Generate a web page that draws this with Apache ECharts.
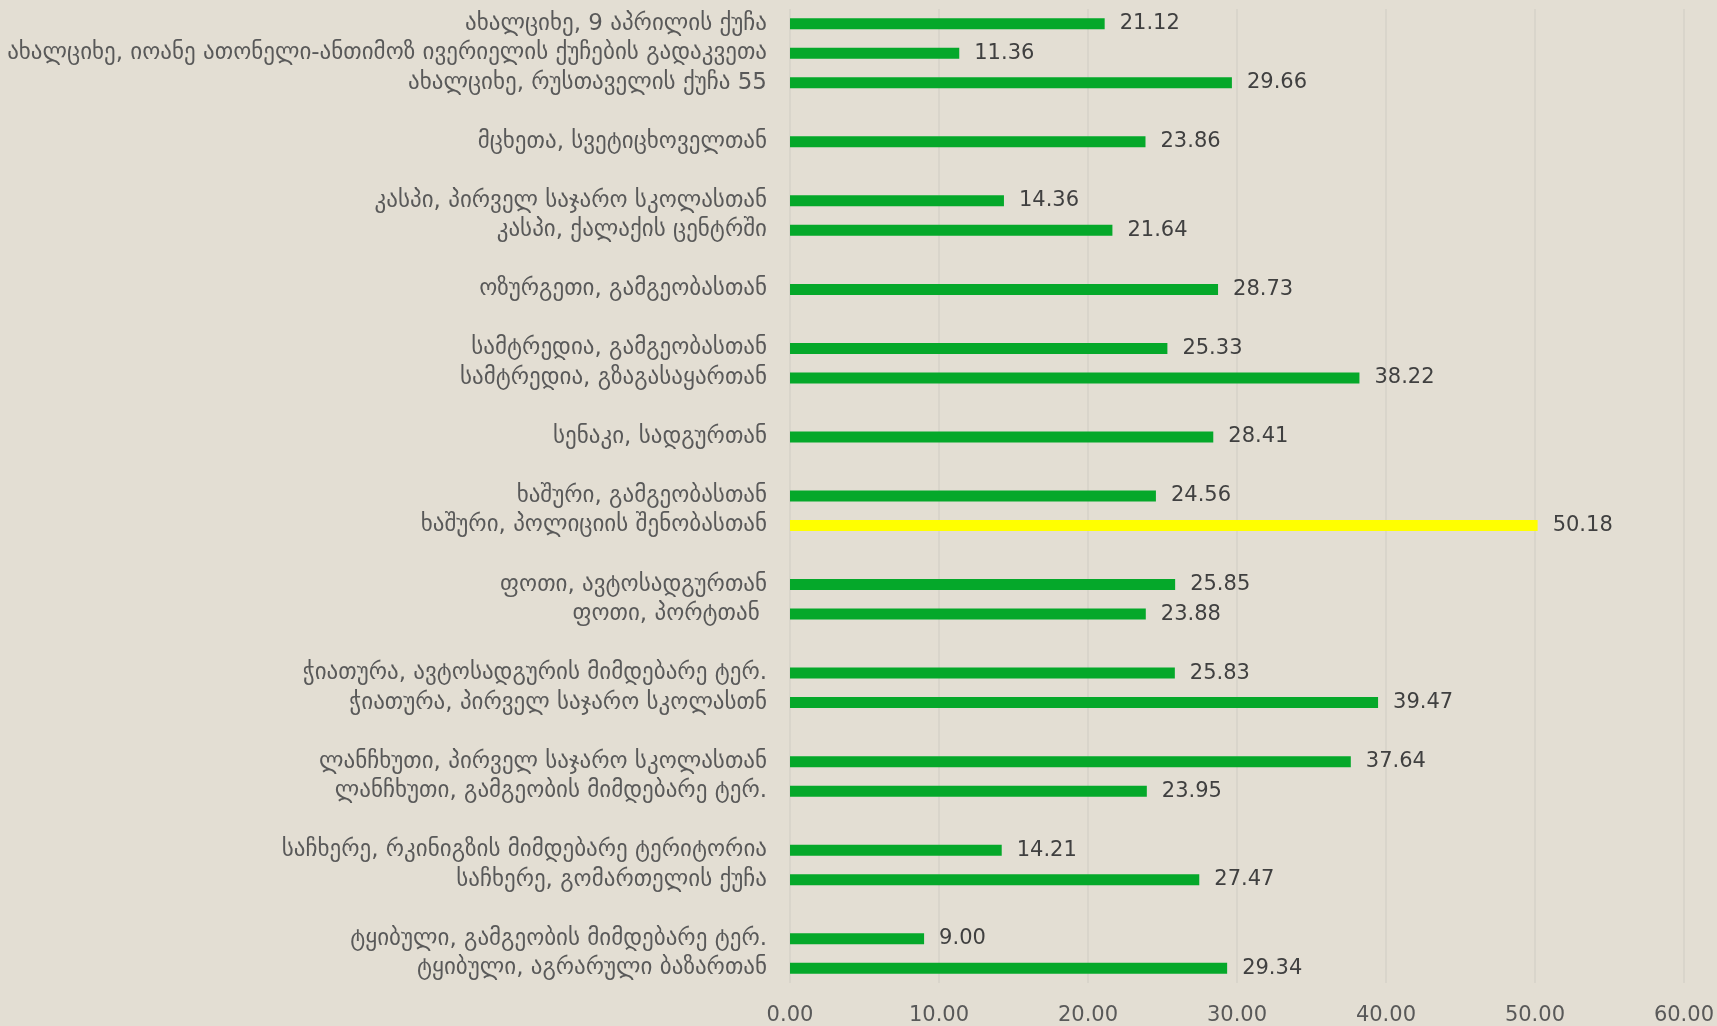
<!DOCTYPE html>
<html>
<head>
<meta charset="utf-8">
<script src="https://cdn.jsdelivr.net/npm/echarts@6/dist/echarts.min.js"></script>
<style>
  html, body { margin: 0; padding: 0; background: #e3ded3; }
  #chart { width: 1717px; height: 1026px; }
</style>
</head>
<body>
<div id="chart"></div>
<script>
// rows top to bottom, '' = empty spacer row
const categories = [
  'ახალციხე, 9 აპრილის ქუჩა',
  'ახალციხე, იოანე ათონელი-ანთიმოზ ივერიელის ქუჩების გადაკვეთა',
  'ახალციხე, რუსთაველის ქუჩა 55',
  '',
  'მცხეთა, სვეტიცხოველთან',
  '',
  'კასპი, პირველ საჯარო სკოლასთან',
  'კასპი, ქალაქის ცენტრში',
  '',
  'ოზურგეთი, გამგეობასთან',
  '',
  'სამტრედია, გამგეობასთან',
  'სამტრედია, გზაგასაყართან',
  '',
  'სენაკი, სადგურთან',
  '',
  'ხაშური, გამგეობასთან',
  'ხაშური, პოლიციის შენობასთან',
  '',
  'ფოთი, ავტოსადგურთან',
  'ფოთი, პორტთან ',
  '',
  'ჭიათურა, ავტოსადგურის მიმდებარე ტერ.',
  'ჭიათურა, პირველ საჯარო სკოლასთნ',
  '',
  'ლანჩხუთი, პირველ საჯარო სკოლასთან',
  'ლანჩხუთი, გამგეობის მიმდებარე ტერ.',
  '',
  'საჩხერე, რკინიგზის მიმდებარე ტერიტორია',
  'საჩხერე, გომართელის ქუჩა',
  '',
  'ტყიბული, გამგეობის მიმდებარე ტერ.',
  'ტყიბული, აგრარული ბაზართან'
];
const values = [
  21.12, 11.36, 29.66, null,
  23.86, null,
  14.36, 21.64, null,
  28.73, null,
  25.33, 38.22, null,
  28.41, null,
  24.56, 50.18, null,
  25.85, 23.88, null,
  25.83, 39.47, null,
  37.64, 23.95, null,
  14.21, 27.47, null,
  9.00, 29.34
];
const xTicks = [0, 10, 20, 30, 40, 50, 60];
const highlighted = 'ხაშური, პოლიციის შენობასთან';

const chart = echarts.init(document.getElementById('chart'));
const textColor = '#404040';
const font = 'DejaVu Sans';

chart.setOption({
  backgroundColor: '#e3ded3',
  animation: false,
  grid: { left: 790, right: 33, top: 9, bottom: 41, containLabel: false },
  xAxis: {
    type: 'value',
    min: xTicks[0],
    max: xTicks[xTicks.length - 1],
    interval: xTicks[1] - xTicks[0],
    axisLine: { show: false },
    axisTick: { show: false },
    splitLine: { show: true, lineStyle: { color: '#d6d2c8', width: 1.5 } },
    axisLabel: {
      color: '#595959',
      fontFamily: font,
      fontSize: 21,
      margin: 22,
      formatter: v => v.toFixed(2)
    }
  },
  yAxis: {
    type: 'category',
    inverse: true,
    data: categories,
    axisLine: { show: false },
    axisTick: { show: false },
    axisLabel: {
      color: '#595959',
      fontFamily: font,
      fontSize: 23,
      margin: 23,
      interval: 0
    }
  },
  series: [{
    type: 'bar',
    data: values,
    barWidth: 11,
    itemStyle: {
      color: p => (categories[p.dataIndex] === highlighted ? '#ffff00' : '#05a82a')
    },
    label: {
      show: true,
      position: 'right',
      distance: 15,
      color: textColor,
      fontFamily: font,
      fontSize: 21,
      formatter: p => (p.value == null ? '' : Number(p.value).toFixed(2))
    }
  }]
});
</script>
</body>
</html>
